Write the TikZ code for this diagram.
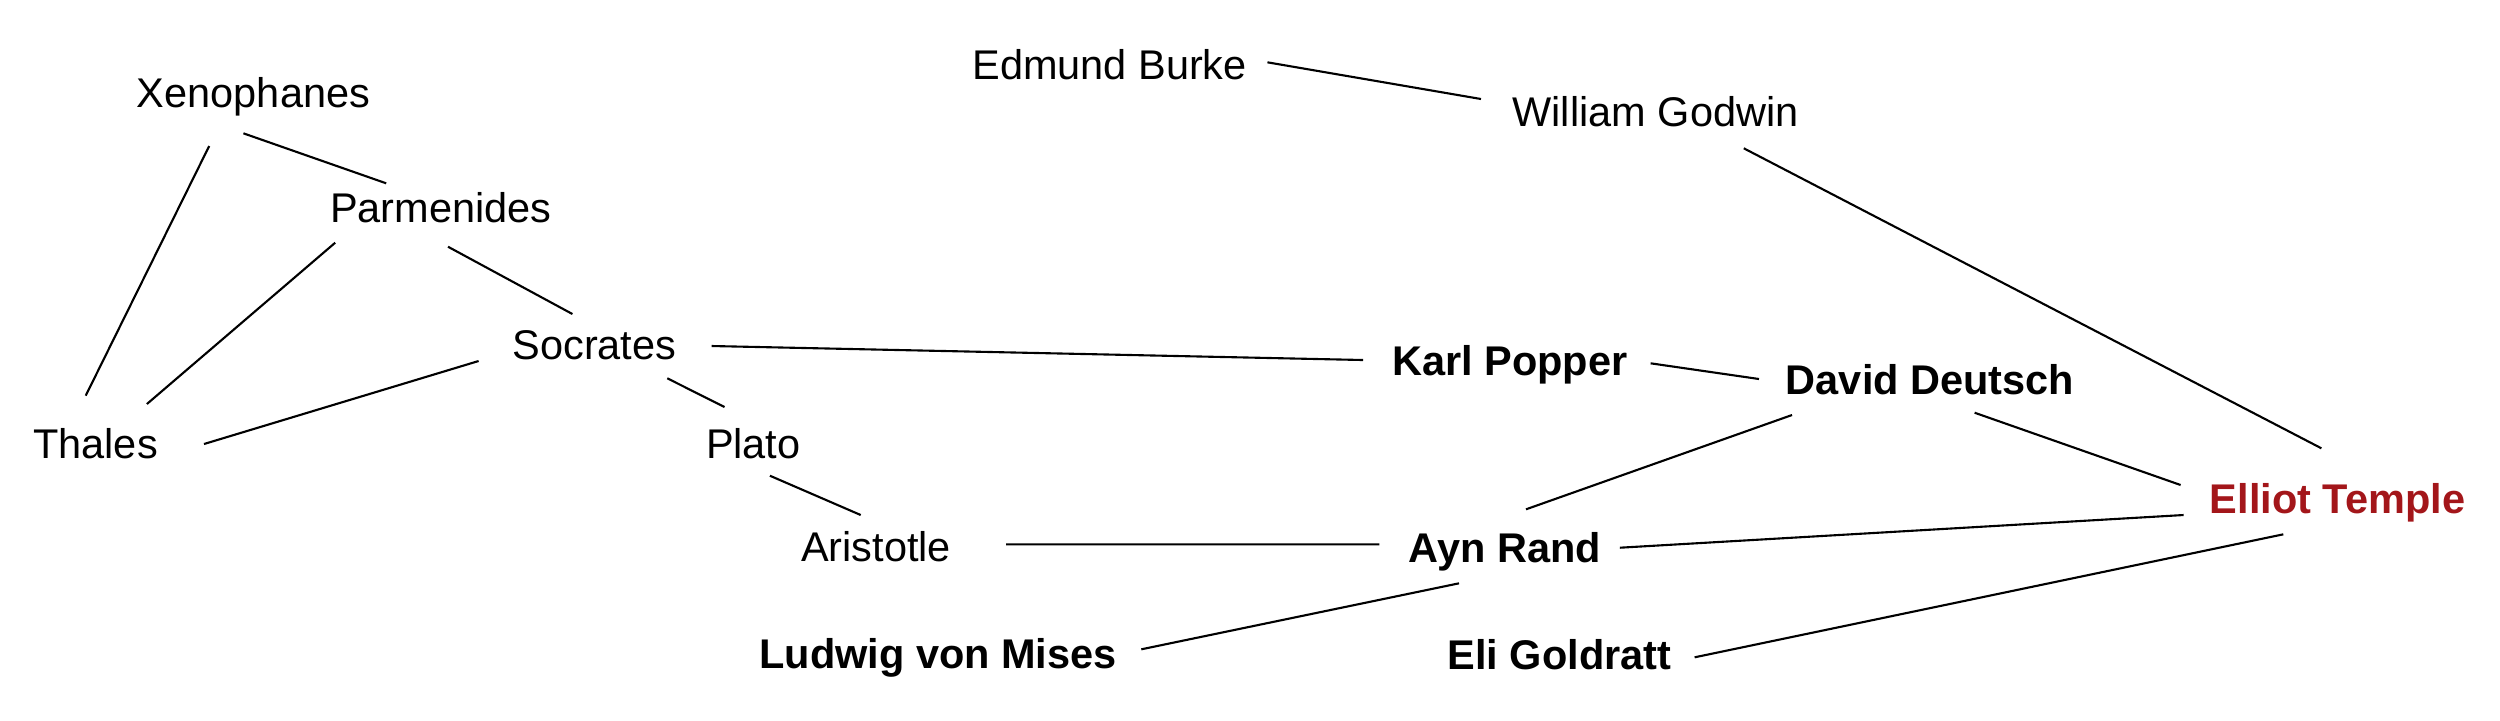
\documentclass[tikz,border=0pt]{standalone}
\usepackage{fontspec}
\setmainfont{Liberation Sans}
\definecolor{tempelrot}{RGB}{163,22,26}
\tikzset{
  denker/.style={anchor=base,inner sep=0pt,font=\fontsize{11.8}{14}\selectfont},
  wichtig/.style={denker,font=\fontsize{11.8}{14}\selectfont\bfseries},
  linie/.style={line width=0.6pt}
}
\begin{document}
\begin{tikzpicture}[x=0.01cm,y=-0.01cm]

  \useasboundingbox (0,0) rectangle (2500,720);

  % Antike
  \node[denker] (xenophanes) at (253.5,107.3) {Xenophanes};
  \node[denker] (parmenides) at (440.8,222.3) {Parmenides};
  \node[denker] (sokrates)   at (594.4,359.8) {Socrates};
  \node[denker] (thales)     at (95.5,458.5)  {Thales};
  \node[denker] (platon)     at (753.3,458.5) {Plato};
  \node[denker] (aristoteles) at (876,561.5)  {Aristotle};

  % Aufklaerung
  \node[denker] (burke)  at (1109.6,79.8)  {Edmund Burke};
  \node[denker] (godwin) at (1655.5,126.8) {William Godwin};

  % Moderne
  \node[wichtig] (popper)   at (1509.7,375.8) {Karl Popper};
  \node[wichtig] (deutsch)  at (1930,394.8)   {David Deutsch};
  \node[wichtig] (rand)     at (1505,562.8)   {Ayn Rand};
  \node[wichtig] (mises)    at (938,668)      {Ludwig von Mises};
  \node[wichtig] (goldratt) at (1559.5,669.3) {Eli Goldratt};
  \node[wichtig,text=tempelrot] (temple) at (2337.5,513.8) {Elliot Temple};

  % Linien Antike
  \draw[linie] ([shift={(-44.3,38.7)}]xenophanes.base) -- ([shift={(-9.8,-62.8)}]thales.base);
  \draw[linie] ([shift={(-10.1,26)}]xenophanes.base) -- ([shift={(-54.6,-39)}]parmenides.base);
  \draw[linie] ([shift={(-105.6,20.4)}]parmenides.base) -- ([shift={(51.4,-54.5)}]thales.base);
  \draw[linie] ([shift={(7.2,24.4)}]parmenides.base) -- ([shift={(-22,-45.8)}]sokrates.base);
  \draw[linie] ([shift={(-115.8,1.2)}]sokrates.base) -- ([shift={(108.5,-14.5)}]thales.base);
  \draw[linie] ([shift={(72.9,18.5)}]sokrates.base) -- ([shift={(-28.8,-51.5)}]platon.base);
  \draw[linie] ([shift={(16.6,17.2)}]platon.base) -- ([shift={(-15.3,-46.5)}]aristoteles.base);

  % Linien zur Moderne
  \draw[linie] ([shift={(117.3,-13.8)}]sokrates.base) -- ([shift={(-146.7,-15.8)}]popper.base);
  \draw[linie] ([shift={(130,-17.2)}]aristoteles.base) -- ([shift={(-125.7,-18.5)}]rand.base);
  \draw[linie] ([shift={(140.9,-12.5)}]popper.base) -- ([shift={(-171,-15.8)}]deutsch.base);
  \draw[linie] ([shift={(157.8,-17.5)}]burke.base) -- ([shift={(-174.5,-27.8)}]godwin.base);
  \draw[linie] ([shift={(88.3,21.5)}]godwin.base) -- ([shift={(-16.1,-65.5)}]temple.base);
  \draw[linie] ([shift={(-138,20.2)}]deutsch.base) -- ([shift={(21,-53.5)}]rand.base);
  \draw[linie] ([shift={(44.6,17.9)}]deutsch.base) -- ([shift={(-156.9,-28.8)}]temple.base);
  \draw[linie] ([shift={(114.8,-15.1)}]rand.base) -- ([shift={(-153.9,1.2)}]temple.base);
  \draw[linie] ([shift={(-46,20.5)}]rand.base) -- ([shift={(203.3,-18.7)}]mises.base);
  \draw[linie] ([shift={(-54.2,20.5)}]temple.base) -- ([shift={(135.1,-12)}]goldratt.base);

\end{tikzpicture}
\end{document}
